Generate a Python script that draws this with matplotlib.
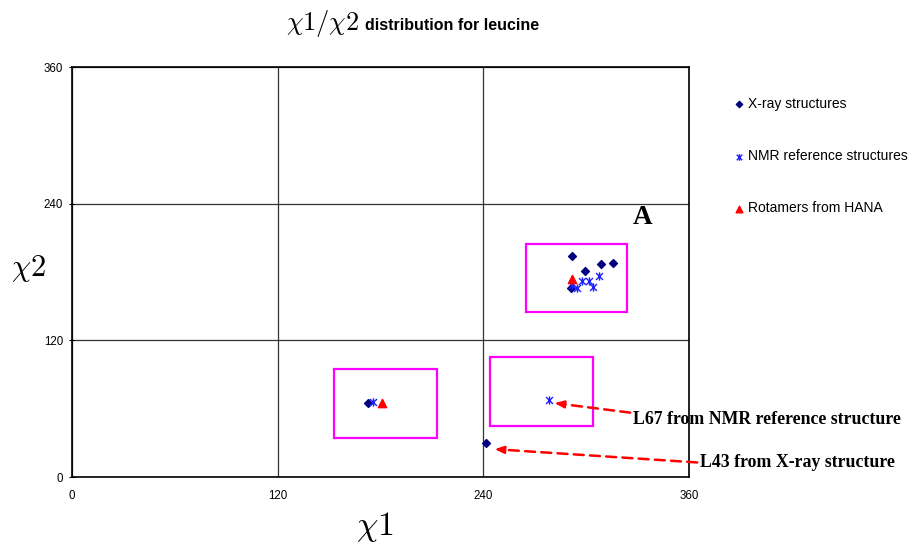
import matplotlib
matplotlib.use("Agg")
import matplotlib.pyplot as plt
from matplotlib.path import Path
from matplotlib.patches import Rectangle

plt.rcParams['mathtext.fontset'] = 'cm'
plt.rcParams['font.family'] = ['Liberation Sans', 'DejaVu Sans']

# ---- data ----
xray_chi1 = [291.5, 299.3, 308.6, 315.8, 291.0, 172.5, 241.5]
xray_chi2 = [194.0, 181.0, 187.0, 188.0, 166.0, 64.7, 29.9]
nmr_chi1 = [292.0, 294.8, 297.7, 301.8, 303.8, 307.5, 175.8, 278.3]
nmr_chi2 = [168.6, 165.7, 172.4, 172.4, 167.1, 176.7, 65.6, 67.6]
hana_chi1 = [291.5, 180.7]
hana_chi2 = [173.8, 64.7]
ticks = [0, 120, 240, 360]
series_labels = ["X-ray structures", "NMR reference structures", "Rotamers from HANA"]

# boxes (x0, y0, width, height) in data units
boxes = [(265, 145, 59, 60), (244, 45, 60, 60), (153, 34, 60, 61)]

fig = plt.figure(figsize=(9.12, 5.44), dpi=100)
ax = fig.add_axes([72/912, 1-477/544, 617/912, 410/544])
ax.set_xlim(0, 360)
ax.set_ylim(0, 360)
ax.set_xticks(ticks)
ax.set_yticks(ticks)
ax.grid(True, color='#333333', linewidth=0.9)
ax.set_axisbelow(True)
for s in ax.spines.values():
    s.set_linewidth(1.2)
    s.set_color('black')
ax.tick_params(axis='x', length=0, pad=9.5, labelsize=8.3)
ax.tick_params(axis='y', length=5, direction='inout', pad=4, labelsize=8.3)

star = Path([(-1, -1), (1, 1), (-1, 1), (1, -1), (0, -1.2), (0, 1.2)],
            [Path.MOVETO, Path.LINETO, Path.MOVETO, Path.LINETO, Path.MOVETO, Path.LINETO])

ax.scatter(xray_chi1, xray_chi2, marker='D', s=16, color='#000080', label=series_labels[0], zorder=3)
ax.scatter(nmr_chi1, nmr_chi2, marker=star, s=36, color='#2020ff', linewidths=1.0, label=series_labels[1], zorder=4)
ax.scatter(hana_chi1, hana_chi2, marker='^', s=36, color='#ff0000', label=series_labels[2], zorder=5)

for (x0, y0, w, h) in boxes:
    ax.add_patch(Rectangle((x0, y0), w, h, fill=False, edgecolor='#ff00ff', linewidth=1.6, zorder=2))

# annotations: dashed line + solid head
def dashed_arrow(tail, tip, head_frac=0.12):
    hx = tip[0] + (tail[0]-tip[0])*head_frac
    hy = tip[1] + (tail[1]-tip[1])*head_frac
    ax.annotate('', xy=(hx, hy), xytext=tail,
                arrowprops=dict(arrowstyle='-', color='red', lw=1.8, linestyle=(0, (4, 2.5))),
                annotation_clip=False)
    ax.annotate('', xy=tip, xytext=(hx, hy),
                arrowprops=dict(arrowstyle='-|>,head_length=0.55,head_width=0.22', color='red', lw=1.6),
                annotation_clip=False)

dashed_arrow((327.3, 56.2), (280.0, 65.2))
dashed_arrow((366.4, 12.6), (245.0, 24.6), head_frac=0.06)

ax.text(327.3, 50.9, "L67 from NMR reference structure", family='Liberation Serif',
        fontweight='bold', fontsize=12.8, ha='left', va='center', clip_on=False)
ax.text(366.4, 12.3, "L43 from X-ray structure", family='Liberation Serif',
        fontweight='bold', fontsize=12.8, ha='left', va='center', clip_on=False)

fig.text(643/912, 1-218/544, "A", family='Liberation Serif', fontweight='bold',
         fontsize=19.5, ha='center', va='center')

# title
fig.text(359/912, 1-30/544, r'$\chi1/\chi2$', fontsize=19, ha='right', va='baseline')
fig.text(365/912, 1-30/544, "distribution for leucine", fontweight='bold', fontsize=11.5,
         ha='left', va='baseline')

# axis labels
fig.text(375/912, 1-527/544, r'$\chi1$', fontsize=24.5, ha='center', va='center')
fig.text(28/912, 1-268/544, r'$\chi2$', fontsize=22, ha='center', va='center')

leg = ax.legend(loc='upper left', bbox_to_anchor=(733/912, 1-97/544),
                bbox_transform=fig.transFigure, frameon=False, fontsize=10,
                labelspacing=2.75, handlelength=0.8, handletextpad=0.3,
                borderpad=0, borderaxespad=0, markerscale=0.8)

fig.savefig("out.png", dpi=100)
